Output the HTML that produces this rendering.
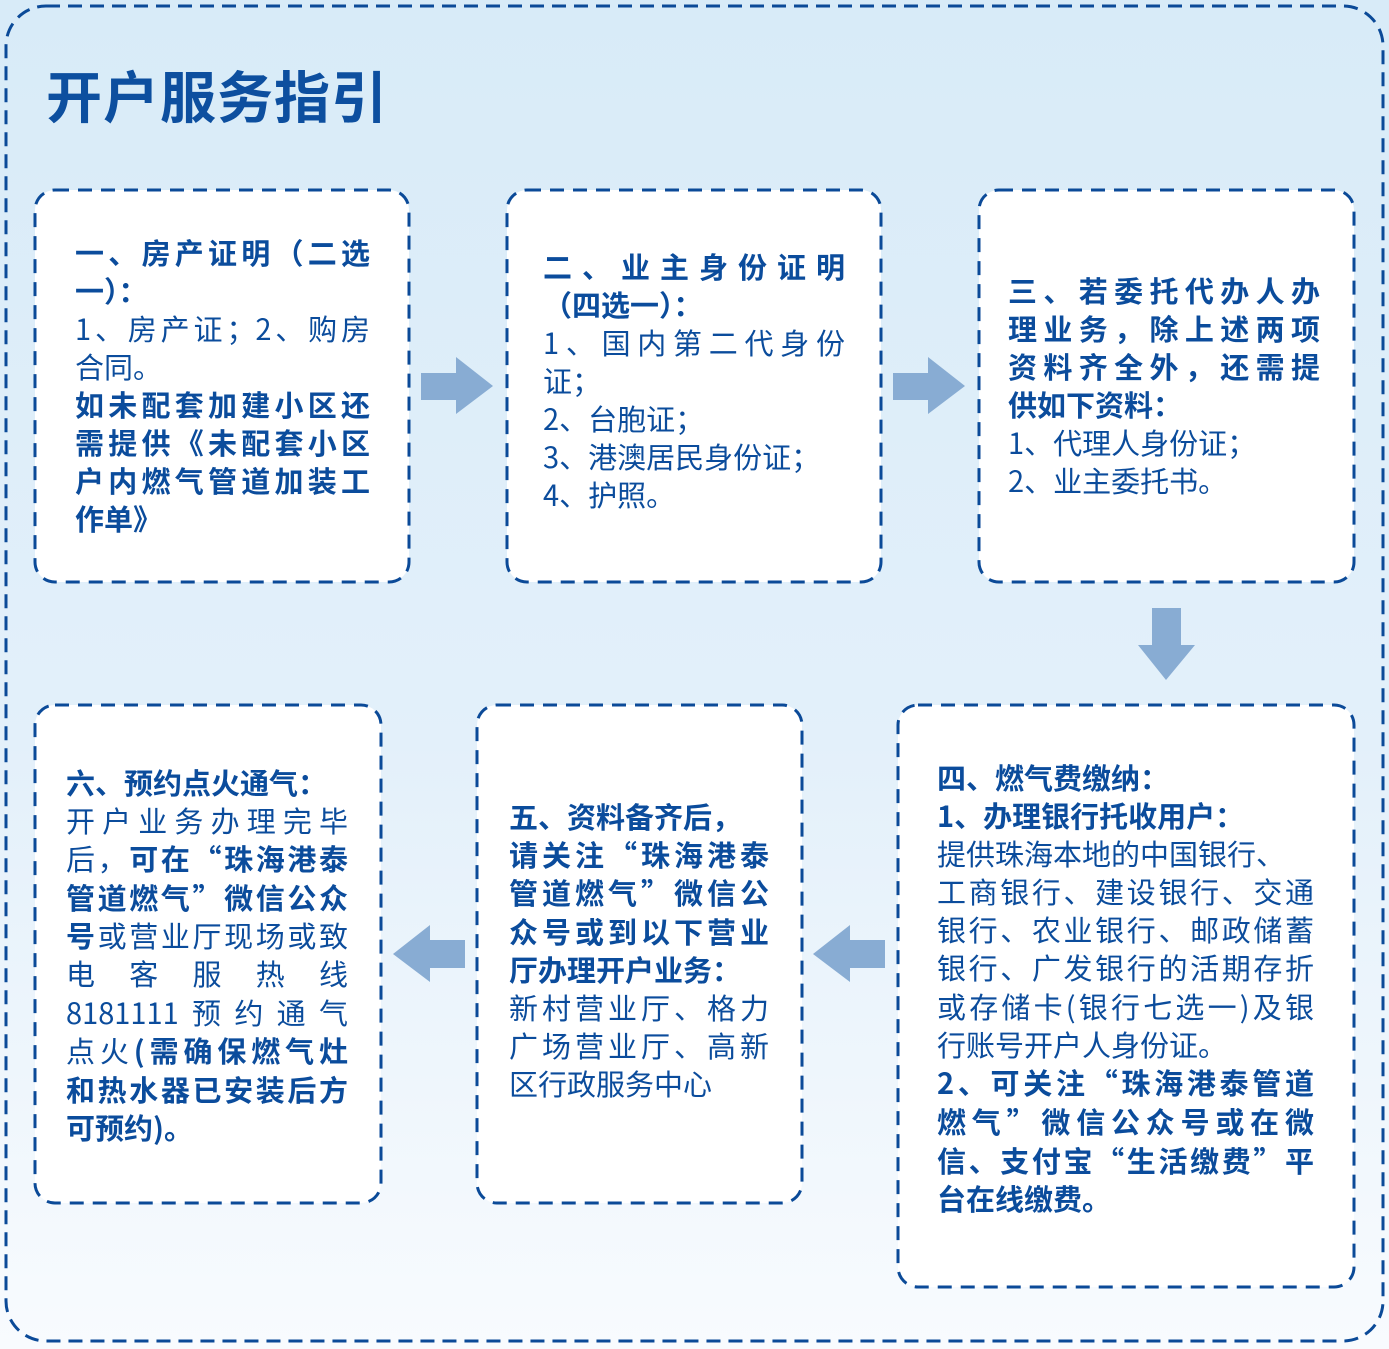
<!DOCTYPE html>
<html><head><meta charset="utf-8">
<style>
html,body{margin:0;padding:0}
body{width:1389px;height:1349px;position:relative;overflow:hidden;background:linear-gradient(180deg,#d8ebf8 0%,#e3f0fa 55%,#f8fbfe 100%);font-family:"Noto Sans CJK SC","Liberation Sans",sans-serif;color:#0b4c9c}
svg{position:absolute;left:0;top:0}
.l{position:absolute;height:38px;line-height:38px;font-size:29px;white-space:nowrap;text-align:left}
.j{text-align:justify;text-align-last:justify}
.b{font-weight:bold}
.n{font-weight:normal}
.t{position:absolute;left:46px;top:60px;font-size:56px;font-weight:bold;line-height:70px;letter-spacing:1px;color:#0d4f9f}
</style></head><body>
<svg width="1389" height="1349">
<rect x="6" y="6" width="1377" height="1335" rx="40" fill="none" stroke="#0b4a98" stroke-width="3" stroke-dasharray="14 8"/>
<g fill="#fff" stroke="#0b4a98" stroke-width="3" stroke-dasharray="14 9">
<rect x="35" y="190" width="374" height="392" rx="20"/>
<rect x="507" y="190" width="374" height="392" rx="20"/>
<rect x="979" y="190" width="375" height="392" rx="20"/>
<rect x="898" y="705" width="456" height="582" rx="20"/>
<rect x="477" y="705" width="325" height="498" rx="20"/>
<rect x="35" y="705" width="346" height="498" rx="20"/>
</g>
<g fill="#88acd3">
<polygon points="421,373 456,373 456,357 493,386 456,414 456,400 421,400"/>
<polygon points="893,373 928,373 928,357 965,386 928,414 928,400 893,400"/>
<polygon points="1152,608 1181,608 1181,645 1195,645 1166,680 1138,645 1152,645"/>
<polygon points="465,940 430,940 430,925 393,954 430,982 430,968 465,968"/>
<polygon points="885,940 850,940 850,925 813,954 850,982 850,968 885,968"/>
</g>
</svg>
<div class="t">开户服务指引</div>

<div class="l b j" style="left:75px;top:233px;width:295px">一、房产证明（二选</div>
<div class="l b" style="left:75px;top:271px">一）：</div>
<div class="l j" style="left:75px;top:309px;width:295px">1、房产证；2、购房</div>
<div class="l" style="left:75px;top:347px">合同。</div>
<div class="l b j" style="left:75px;top:385px;width:295px">如未配套加建小区还</div>
<div class="l b j" style="left:75px;top:423px;width:295px">需提供《未配套小区</div>
<div class="l b j" style="left:75px;top:461px;width:295px">户内燃气管道加装工</div>
<div class="l b" style="left:75px;top:499px">作单》</div>

<div class="l b j" style="left:543px;top:247px;width:302px">二、业主身份证明</div>
<div class="l b" style="left:543px;top:285px">（四选一）：</div>
<div class="l j" style="left:543px;top:323px;width:302px">1、国内第二代身份</div>
<div class="l" style="left:543px;top:361px">证；</div>
<div class="l" style="left:543px;top:399px">2、台胞证；</div>
<div class="l" style="left:543px;top:437px">3、港澳居民身份证；</div>
<div class="l" style="left:543px;top:475px">4、护照。</div>

<div class="l b j" style="left:1008px;top:271px;width:312px">三、若委托代办人办</div>
<div class="l b j" style="left:1008px;top:309px;width:312px">理业务，除上述两项</div>
<div class="l b j" style="left:1008px;top:347px;width:312px">资料齐全外，还需提</div>
<div class="l b" style="left:1008px;top:385px">供如下资料：</div>
<div class="l" style="left:1008px;top:423px">1、代理人身份证；</div>
<div class="l" style="left:1008px;top:461px">2、业主委托书。</div>

<div class="l b" style="left:937px;top:758px">四、燃气费缴纳：</div>
<div class="l b" style="left:937px;top:796px">1、办理银行托收用户：</div>
<div class="l" style="left:937px;top:834px">提供珠海本地的中国银行、</div>
<div class="l j" style="left:937px;top:872px;width:377px">工商银行、建设银行、交通</div>
<div class="l j" style="left:937px;top:910px;width:377px">银行、农业银行、邮政储蓄</div>
<div class="l j" style="left:937px;top:948px;width:377px">银行、广发银行的活期存折</div>
<div class="l j" style="left:937px;top:987px;width:377px">或存储卡(银行七选一)及银</div>
<div class="l" style="left:937px;top:1025px">行账号开户人身份证。</div>
<div class="l b j" style="left:937px;top:1063px;width:377px">2、可关注“珠海港泰管道</div>
<div class="l b j" style="left:937px;top:1102px;width:377px">燃气”微信公众号或在微</div>
<div class="l b j" style="left:937px;top:1141px;width:377px">信、支付宝“生活缴费”平</div>
<div class="l b" style="left:937px;top:1179px">台在线缴费。</div>

<div class="l b" style="left:509px;top:797px">五、资料备齐后，</div>
<div class="l b j" style="left:509px;top:835px;width:260px">请关注“珠海港泰</div>
<div class="l b j" style="left:509px;top:873px;width:260px">管道燃气”微信公</div>
<div class="l b j" style="left:509px;top:912px;width:260px">众号或到以下营业</div>
<div class="l b" style="left:509px;top:950px">厅办理开户业务：</div>
<div class="l j" style="left:509px;top:988px;width:260px">新村营业厅、格力</div>
<div class="l j" style="left:509px;top:1026px;width:260px">广场营业厅、高新</div>
<div class="l" style="left:509px;top:1064px">区行政服务中心</div>

<div class="l b" style="left:66px;top:763px">六、预约点火通气：</div>
<div class="l j" style="left:66px;top:801px;width:282px">开户业务办理完毕</div>
<div class="l j" style="left:66px;top:839px;width:282px">后，<span class="b">可在“珠海港泰</span></div>
<div class="l b j" style="left:66px;top:878px;width:282px">管道燃气”微信公众</div>
<div class="l j" style="left:66px;top:916px;width:282px"><span class="b">号</span>或营业厅现场或致</div>
<div class="l j" style="left:66px;top:954px;width:282px">电 客 服 热 线</div>
<div class="l j" style="left:66px;top:993px;width:282px">8181111预约通气</div>
<div class="l j" style="left:66px;top:1031px;width:282px">点火<span class="b">(需确保燃气灶</span></div>
<div class="l b j" style="left:66px;top:1070px;width:282px">和热水器已安装后方</div>
<div class="l b" style="left:66px;top:1108px">可预约)。</div>
</body></html>
